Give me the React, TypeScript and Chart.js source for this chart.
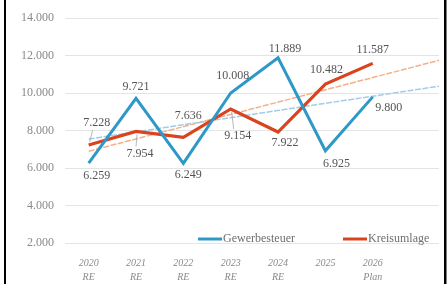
import React, { useEffect, useRef } from 'react';
import { Chart, registerables } from 'chart.js';

Chart.register(...registerables);

// ---- data ----
const years = ['2020', '2021', '2022', '2023', '2024', '2025', '2026'];
const yearNotes = ['RE', 'RE', 'RE', 'RE', 'RE', '', 'Plan'];
const gewerbesteuer = [6259, 9721, 6249, 10008, 11889, 6925, 9800];
const kreisumlage = [7228, 7954, 7636, 9154, 7922, 10482, 11587];
// trend lines (start / end)
const trendX = [0, 7.4];
const trendGewerbesteuer = [7550, 10370];
const trendKreisumlage = [6900, 11750];
const yTicks = [2000, 4000, 6000, 8000, 10000, 12000, 14000];
const seriesNames = ['Gewerbesteuer', 'Kreisumlage'];

// ---- styles ----
const BLUE = '#2e98c8';
const RED = '#d9431e';
const TREND_BLUE = '#a3cce8';
const TREND_RED = '#f4b08a';
const LABEL_COLOR = '#555555';
const TICK_COLOR = '#8a8a8a';
const FONT = '"Liberation Serif", "DejaVu Serif", serif';

// label placement: pixel offset of label centre from the point
const gewLabelOffset = [[8, 13], [0, -12], [5, 11], [2, -17], [7, -9], [11, 13], [16, 11]];
const kreisLabelOffset = [[8, -22], [4, 22], [5, -22], [7, 27], [7, 11], [1, -14], [0, -14]];
const kreisLeader = [true, true, false, true, false, false, false];

const fmt = (v: number) => {
  const s = Math.round(v).toString();
  return s.length > 3 ? s.slice(0, -3) + '.' + s.slice(-3) : s;
};

const framePlugin = {
  id: 'frame',
  beforeDraw(chart: any) {
    const { ctx, width, height } = chart;
    ctx.save();
    ctx.fillStyle = '#ffffff';
    ctx.fillRect(0, 0, width, height);
    ctx.restore();
  },
  afterDraw(chart: any) {
    const { ctx, height } = chart;
    ctx.save();
    ctx.fillStyle = '#000000';
    ctx.fillRect(4, 0, 2, height);
    ctx.fillRect(444, 0, 2.5, height);
    ctx.restore();
  },
};

const labelPlugin = {
  id: 'dataLabels',
  afterDatasetsDraw(chart: any) {
    const ctx = chart.ctx;
    ctx.save();
    ctx.font = `12px ${FONT}`;
    ctx.fillStyle = LABEL_COLOR;
    ctx.textAlign = 'center';
    ctx.textBaseline = 'middle';
    const draw = (dsIndex: number, values: number[], offsets: number[][], leaders?: boolean[]) => {
      const meta = chart.getDatasetMeta(dsIndex);
      meta.data.forEach((pt: any, i: number) => {
        const lx = pt.x + offsets[i][0];
        const ly = pt.y + offsets[i][1];
        if (leaders && leaders[i]) {
          ctx.save();
          ctx.strokeStyle = '#a6a6a6';
          ctx.lineWidth = 0.8;
          ctx.beginPath();
          const dir = offsets[i][1] < 0 ? 1 : -1;
          ctx.moveTo(lx - 4, ly + dir * 7);
          ctx.lineTo(pt.x + 1, pt.y - dir * 3);
          ctx.stroke();
          ctx.restore();
        }
        ctx.fillText(fmt(values[i]), lx, ly);
      });
    };
    draw(0, gewerbesteuer, gewLabelOffset);
    draw(1, kreisumlage, kreisLabelOffset, kreisLeader);
    ctx.restore();
  },
};

const legendPlugin = {
  id: 'customLegend',
  afterDraw(chart: any) {
    const ctx = chart.ctx;
    ctx.save();
    ctx.font = `12px ${FONT}`;
    ctx.fillStyle = '#6e6e6e';
    ctx.textBaseline = 'middle';
    ctx.textAlign = 'left';
    const items = [
      { color: BLUE, x: 198, text: seriesNames[0] },
      { color: RED, x: 343, text: seriesNames[1] },
    ];
    const y = 239;
    items.forEach((it) => {
      ctx.strokeStyle = it.color;
      ctx.lineWidth = 3;
      ctx.beginPath();
      ctx.moveTo(it.x, y);
      ctx.lineTo(it.x + 24, y);
      ctx.stroke();
      ctx.fillText(it.text, it.x + 25, y);
    });
    ctx.restore();
  },
};

export default function App() {
  const canvasRef = useRef<HTMLCanvasElement | null>(null);

  useEffect(() => {
    if (!canvasRef.current) return;
    const chart = new Chart(canvasRef.current, {
      type: 'line',
      data: {
        datasets: [
          {
            label: seriesNames[0],
            data: years.map((_, i) => ({ x: i, y: gewerbesteuer[i] })),
            borderColor: BLUE,
            borderWidth: 3,
            pointRadius: 0,
            tension: 0,
            order: 0,
          },
          {
            label: seriesNames[1],
            data: years.map((_, i) => ({ x: i, y: kreisumlage[i] })),
            borderColor: RED,
            borderWidth: 3.2,
            pointRadius: 0,
            tension: 0,
            order: 1,
          },
          {
            label: 'Trend Gewerbesteuer',
            data: trendX.map((x, i) => ({ x, y: trendGewerbesteuer[i] })),
            borderColor: TREND_BLUE,
            borderWidth: 1.5,
            borderDash: [6, 1.5],
            pointRadius: 0,
            order: 2,
          },
          {
            label: 'Trend Kreisumlage',
            data: trendX.map((x, i) => ({ x, y: trendKreisumlage[i] })),
            borderColor: TREND_RED,
            borderWidth: 1.5,
            borderDash: [6, 1.5],
            pointRadius: 0,
            order: 2,
          },
        ],
      },
      options: {
        responsive: false,
        animation: false,
        devicePixelRatio: 1,
        layout: { padding: { top: 18, right: 9, left: 0, bottom: 0 } },
        plugins: {
          legend: { display: false },
          tooltip: { enabled: false },
        },
        scales: {
          x: {
            type: 'linear',
            min: -0.5,
            max: 7.4,
            grid: { display: false },
            border: { display: false },
            afterBuildTicks: (scale: any) => {
              scale.ticks = years.map((_, i) => ({ value: i }));
            },
            afterFit: (scale: any) => {
              scale.height = 41;
            },
            ticks: {
              autoSkip: false,
              maxRotation: 0,
              minRotation: 0,
              padding: 5,
              color: TICK_COLOR,
              font: { family: FONT, size: 10, style: 'italic', lineHeight: 1.45 },
              callback: (v: any) => {
                const i = Math.round(Number(v));
                return yearNotes[i] ? [years[i], yearNotes[i]] : years[i];
              },
            },
          },
          y: {
            min: 2000,
            max: 14000,
            afterBuildTicks: (scale: any) => {
              scale.ticks = yTicks.map((v) => ({ value: v }));
            },
            afterFit: (scale: any) => {
              scale.width = 65;
            },
            grid: { color: '#e4e4e4', lineWidth: 1, drawTicks: false },
            border: { display: false },
            ticks: {
              padding: 11,
              color: TICK_COLOR,
              font: { family: FONT, size: 12 },
              callback: (v: any) => fmt(Number(v)),
            },
          },
        },
      },
      plugins: [framePlugin, labelPlugin, legendPlugin],
    } as any);
    return () => chart.destroy();
  }, []);

  return (
    <div style={{ position: 'absolute', left: 0, top: 0, width: 448, height: 284, background: '#fff' }}>
      <canvas ref={canvasRef} width={448} height={284} style={{ display: 'block', width: 448, height: 284 }} />
    </div>
  );
}
